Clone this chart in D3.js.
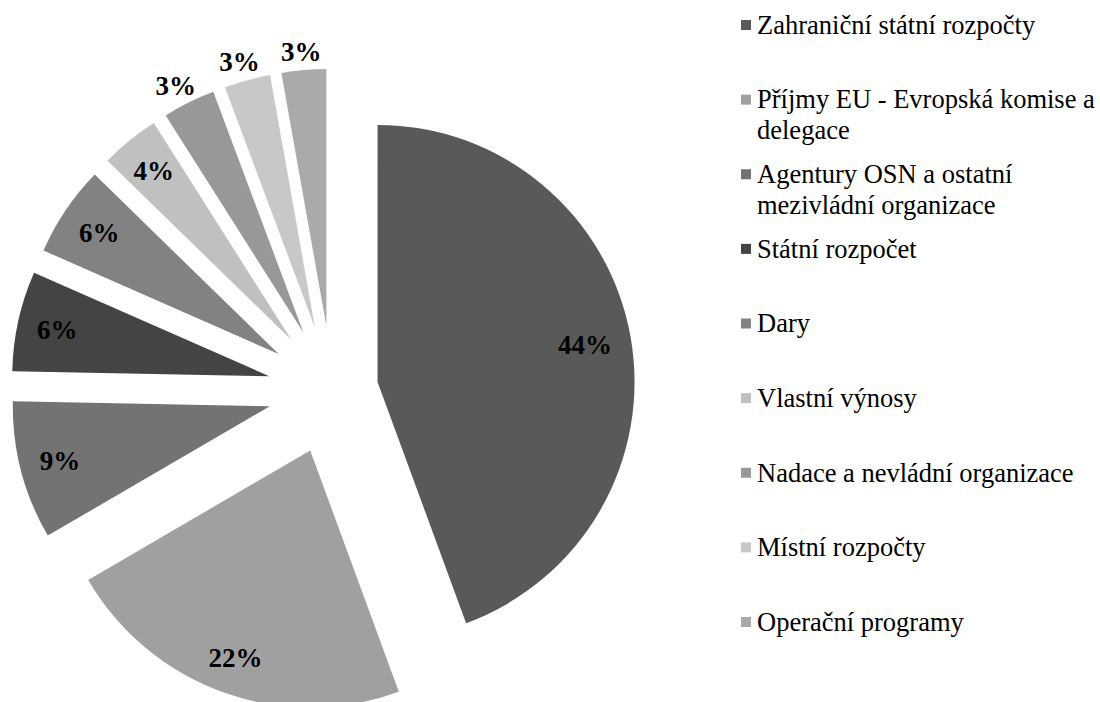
<!DOCTYPE html>
<html>
<head>
<meta charset='utf-8'>
<style>
body {
  margin: 0;
  background: #fff;
}
svg {
  display: block;
}
.pct {
  font-family: "Liberation Serif", "Times New Roman", serif;
  font-size: 27px;
  font-weight: bold;
  fill: #000;
}
.legend text {
  font-family: "Liberation Serif", "Times New Roman", serif;
  font-size: 26.5px;
  fill: #000;
}
</style>
</head>
<body>
<svg width="1100" height="702"></svg>
<script src="https://cdn.jsdelivr.net/npm/d3@7/dist/d3.min.js"></script>
<script>

// data, in the order of the legend (pie goes clockwise from 12 o'clock)
var categories = [
  "Zahraniční státní rozpočty",
  "Příjmy EU - Evropská komise a delegace",
  "Agentury OSN a ostatní mezivládní organizace",
  "Státní rozpočet",
  "Dary",
  "Vlastní výnosy",
  "Nadace a nevládní organizace",
  "Místní rozpočty",
  "Operační programy"
];
var values = [44.4, 22.2, 8.7, 6.3, 5.7, 3.7, 3.3, 2.9, 2.8];

// styling
var colors = ["#595959", "#a0a0a0", "#737373", "#444444", "#828282",
              "#c0c0c0", "#989898", "#c8c8c8", "#aaaaaa"];
var explodePct = [18, 25, 25, 25, 25, 25, 25, 25, 25];  // point explosion, % of radius

var svg = d3.select("svg"),
    radius = 257,
    cx = 332,
    cy = 390,
    total = d3.sum(values);

var pie = d3.pie().sort(null).value(function(d) { return d; });
var arc = d3.arc().innerRadius(0).outerRadius(radius);
var arcs = pie(values);

var g = svg.append("g").attr("transform", "translate(" + cx + "," + cy + ")");

function offset(d, i) {
  var mid = (d.startAngle + d.endAngle) / 2,
      e = radius * explodePct[i] / 100;
  return [Math.sin(mid) * e, -Math.cos(mid) * e];
}

var slices = g.selectAll("g.slice")
  .data(arcs)
  .enter().append("g")
    .attr("class", "slice")
    .attr("transform", function(d, i) {
      var o = offset(d, i);
      return "translate(" + o[0] + "," + o[1] + ")";
    });

slices.append("path")
  .attr("d", arc)
  .attr("fill", function(d, i) { return colors[i]; });

// percentage labels: inside end when they fit, outside end for the thin ones
slices.append("text")
  .attr("class", "pct")
  .attr("text-anchor", "middle")
  .attr("dy", "0.35em")
  .text(function(d) { return Math.round(d.value / total * 100) + "%"; })
  .each(function(d) {
    var w = this.getComputedTextLength(),
        hh = 10,
        mid = (d.startAngle + d.endAngle) / 2,
        s = Math.sin(mid), c = Math.cos(mid),
        x, y;
    if (d.value / total * 100 >= 3.5) {
      var dist = radius - 18 - (Math.abs(s) * w / 2 + Math.abs(c) * hh);
      x = s * dist; y = -c * dist;
    } else {
      var p = radius + 9;
      x = s * p + s * w / 2;
      y = -c * p - c * hh;
    }
    d3.select(this).attr("x", x).attr("y", y);
  });

// legend
var legendY = d3.scalePoint().domain(categories).range([25, 622]);

var legend = svg.append("g").attr("class", "legend");

var item = legend.selectAll("g")
  .data(categories)
  .enter().append("g")
    .attr("transform", function(d) { return "translate(741," + legendY(d) + ")"; });

item.append("rect")
  .attr("x", 0)
  .attr("y", -5)
  .attr("width", 10)
  .attr("height", 10)
  .attr("fill", function(d, i) { return colors[i]; });

item.append("text")
  .each(function(d) {
    var text = d3.select(this),
        words = d.split(" "),
        line = [],
        tspan = text.append("tspan").attr("x", 16).attr("dy", "0.33em");
    words.forEach(function(word) {
      line.push(word);
      tspan.text(line.join(" "));
      if (tspan.node().getComputedTextLength() > 345 && line.length > 1) {
        line.pop();
        tspan.text(line.join(" "));
        line = [word];
        tspan = text.append("tspan").attr("x", 16).attr("dy", "1.17em").text(word);
      }
    });
  });

</script>
</body>
</html>
